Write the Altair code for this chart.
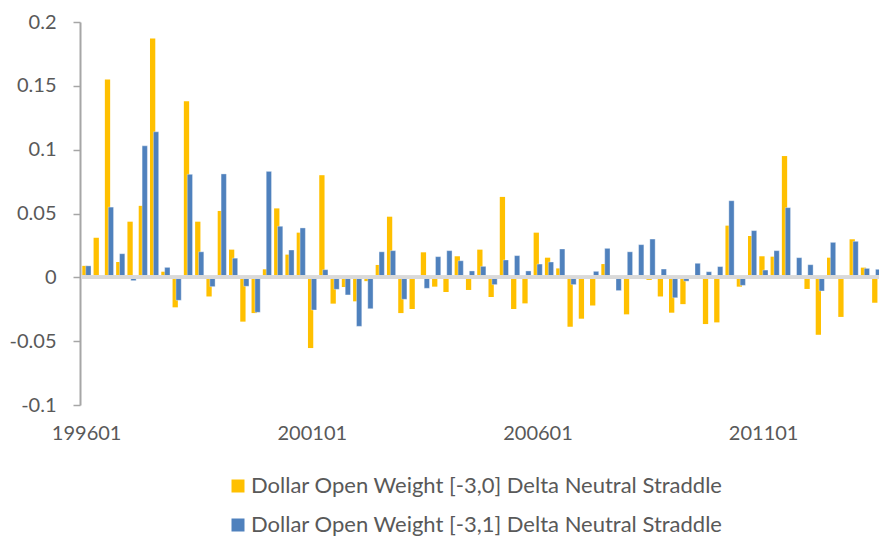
import altair as alt
import pandas as pd

# Quarterly periods 1996Q1 .. 2013Q4 labelled YYYYMM
periods = [f"{y}{m:02d}" for y in range(1996, 2014) for m in (1, 4, 7, 10)]

series_names = [
    "Dollar Open Weight [-3,0] Delta Neutral Straddle",
    "Dollar Open Weight [-3,1] Delta Neutral Straddle",
]

straddle_30 = [
    0.009, 0.031, 0.155, 0.012, 0.0436, 0.056, 0.187, 0.0044, -0.0235, 0.138,
    0.0436, -0.015, 0.052, 0.0217, -0.0347, -0.028, 0.0063, 0.054, 0.0178, 0.035,
    -0.0554, 0.080, -0.0206, -0.0076, -0.0188, -0.003, 0.0097, 0.0475, -0.028, -0.0248,
    0.0196, -0.0073, -0.0115, 0.0165, -0.0099, 0.0217, -0.0154, 0.063, -0.0248, -0.0204,
    0.035, 0.0154, 0.007, -0.0387, -0.0324, -0.022, 0.0104, 0.0, -0.029, 0.0,
    -0.002, -0.015, -0.0277, -0.021, 0.0, -0.0366, -0.0353, 0.0405, -0.0073, 0.0324,
    0.0165, 0.0162, 0.095, 0.001, -0.0091, -0.045, 0.0154, -0.031, 0.0298, 0.0076,
    -0.0199, -0.0259,
]

straddle_31 = [
    0.009, 0.0, 0.055, 0.0185, -0.0026, 0.103, 0.114, 0.0078, -0.018, 0.0807,
    0.020, -0.0073, 0.081, 0.015, -0.007, -0.0274, 0.083, 0.040, 0.0214, 0.0387,
    -0.0256, 0.006, -0.0094, -0.0138, -0.0384, -0.0246, 0.020, 0.0209, -0.0172, 0.0,
    -0.0086, 0.0162, 0.0209, 0.013, 0.005, 0.0086, -0.0057, 0.0136, 0.017, 0.005,
    0.0104, 0.012, 0.0222, -0.0057, 0.0, 0.0047, 0.0227, -0.0104, 0.020, 0.0256,
    0.030, 0.0065, -0.016, -0.003, 0.011, 0.0044, 0.0084, 0.060, -0.0063, 0.0366,
    0.0057, 0.0209, 0.0546, 0.0154, 0.0099, -0.0107, 0.0274, 0.0, 0.0282, 0.007,
    0.0063, 0.0,
]

x_label_values = ["199601", "200101", "200601", "201101"]
y_tick_values = [-0.1, -0.05, 0, 0.05, 0.1, 0.15, 0.2]

df = pd.DataFrame({
    "period": periods * 2,
    "value": straddle_30 + straddle_31,
    "series": [series_names[0]] * len(periods) + [series_names[1]] * len(periods),
})

W = 798
H = 383
TEXT = "#595959"
FONT = "Lato"

xscale = alt.Scale(domain=periods, range=[0, 812.4], paddingInner=0, paddingOuter=0)
yscale = alt.Scale(domain=[-0.1, 0.2], nice=False)

x = alt.X(
    "period:N",
    scale=xscale,
    axis=alt.Axis(
        values=x_label_values, domain=False, ticks=False, grid=False, title=None,
        labelAngle=0, labelPadding=18, labelFont=FONT, labelFontSize=20,
        labelColor=TEXT,
    ),
)
y = alt.Y(
    "value:Q",
    scale=yscale,
    axis=alt.Axis(
        values=y_tick_values, labelExpr="'' + datum.value", grid=False, title=None,
        tickSize=7, labelPadding=17, domainColor="#A6A6A6", tickColor="#A6A6A6",
        domainWidth=2, tickWidth=1.5, labelFont=FONT, labelFontSize=20,
        labelColor=TEXT, offset=1,
    ),
)
color = alt.Color(
    "series:N",
    scale=alt.Scale(domain=series_names, range=["#FFC000", "#4F81BD"]),
    legend=alt.Legend(
        title=None, orient="none", legendX=146, legendY=453, direction="vertical",
        symbolType="square", symbolSize=169, symbolStrokeWidth=0,
        labelFont=FONT, labelFontSize=22, labelColor=TEXT, labelOffset=2,
        rowPadding=17, padding=0, labelLimit=0,
    ),
)

base = alt.Chart(df)
yellow = base.transform_filter(alt.datum.series == series_names[0]).mark_bar(
    size=5.3, xOffset=-1.7, clip=True
).encode(x=x, y=y, color=color)
blue = base.transform_filter(alt.datum.series == series_names[1]).mark_bar(
    size=5.3, xOffset=1.7, clip=True, stroke="#FFFFFF", strokeWidth=0.6, strokeOpacity=0.6
).encode(x=x, y=y, color=color)
zero = base.mark_rule(color="#D9D9D9", strokeWidth=3).encode(
    y=alt.datum(0), x=alt.value(0), x2=alt.value(W)
)

chart = alt.layer(yellow, blue, zero).properties(
    width=W,
    height=H,
    padding={"left": 73, "top": 14, "right": 0, "bottom": 133},
    autosize=alt.AutoSizeParams(type="none"),
).configure_view(stroke=None)

chart.save("out.html", embed_options={"renderer": "svg", "actions": False})
